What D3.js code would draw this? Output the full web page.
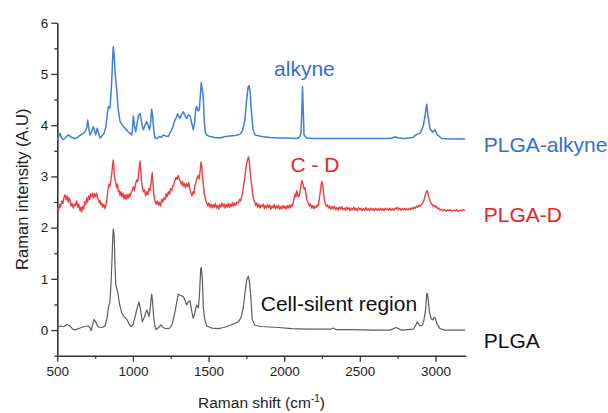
<!DOCTYPE html>
<html>
<head>
<meta charset="utf-8">
<script src="https://cdn.jsdelivr.net/npm/d3@7"></script>
<style>
  body { margin: 0; background: #fff; }
  text { font-family: "Liberation Sans", Arial, sans-serif; }
</style>
</head>
<body>
<div id="chart"></div>
<script>
// Spectra: [Raman shift (cm-1), intensity (A.U)]
var plgaData = [[500,0.05],[520,0.08],[545,0.07],[562,0.11],[580,0.09],[606,0.01],[625,0.01],[650,0.04],[680,0.07],[705,0.08],[715,0.05],[723,-0.01],[735,0.12],[743,0.21],[755,0.15],[771,0.06],[795,0.05],[815,0.08],[830,0.25],[838,0.45],[848,0.55],[855,0.9],[860,1.24],[866,1.75],[870,1.97],[874,1.9],[877,1.76],[881,1.3],[886,0.91],[892,0.82],[899,0.75],[912,0.5],[926,0.33],[945,0.25],[959,0.21],[975,0.12],[987,0.065],[1000,0.1],[1014,0.26],[1030,0.45],[1040,0.55],[1050,0.4],[1062,0.16],[1075,0.25],[1091,0.39],[1100,0.33],[1106,0.26],[1115,0.45],[1124,0.70],[1130,0.55],[1137,0.26],[1145,0.08],[1153,0.01],[1170,0.05],[1186,0.10],[1200,0.05],[1215,0.03],[1245,0.04],[1260,0.12],[1278,0.36],[1290,0.55],[1300,0.70],[1315,0.68],[1333,0.65],[1345,0.58],[1355,0.49],[1365,0.55],[1377,0.57],[1390,0.35],[1399,0.23],[1410,0.35],[1421,0.49],[1433,0.43],[1440,0.7],[1448,1.2],[1452,1.22],[1459,1.0],[1465,0.45],[1475,0.2],[1488,0.08],[1520,0.04],[1564,0.03],[1600,0.05],[1631,0.08],[1665,0.12],[1697,0.16],[1715,0.25],[1730,0.45],[1742,0.75],[1752,0.98],[1763,1.05],[1770,0.95],[1778,0.7],[1789,0.2],[1807,0.09],[1850,0.07],[1900,0.06],[1961,0.05],[2050,0.03],[2150,0.02],[2250,0.02],[2310,0.02],[2325,0.04],[2340,0.01],[2450,0.01],[2600,0.0],[2700,0.0],[2739,0.05],[2777,0.0],[2854,0.02],[2870,0.1],[2880,0.16],[2898,0.08],[2915,0.1],[2924,0.2],[2935,0.4],[2942,0.7],[2946,0.72],[2952,0.6],[2960,0.36],[2972,0.22],[2982,0.2],[2992,0.25],[2999,0.23],[3010,0.12],[3030,0.03],[3060,0.0],[3100,0.0],[3196,0.0]];

var alkyneData = [[500,3.71],[510,3.78],[518,3.84],[528,3.75],[540,3.72],[555,3.76],[573,3.81],[590,3.77],[606,3.75],[625,3.74],[645,3.79],[660,3.82],[672,3.84],[685,3.88],[695,3.95],[701,4.10],[708,3.95],[716,3.81],[725,3.85],[738,3.97],[745,3.9],[754,3.81],[764,3.94],[772,3.85],[782,3.75],[795,3.79],[809,3.84],[820,3.95],[830,4.2],[837,4.36],[848,4.33],[855,4.6],[860,4.88],[866,5.3],[870,5.53],[875,5.4],[881,5.08],[887,4.85],[893,4.69],[903,4.3],[915,4.07],[930,4.0],[948,3.94],[965,3.88],[980,3.84],[992,3.81],[998,3.95],[1003,4.18],[1010,4.0],[1018,3.87],[1026,4.0],[1036,4.18],[1047,4.23],[1055,4.1],[1062,3.98],[1069,3.91],[1080,4.0],[1091,4.07],[1100,4.0],[1109,3.91],[1117,4.05],[1124,4.31],[1130,4.2],[1135,3.99],[1140,3.85],[1146,3.75],[1160,3.74],[1175,3.78],[1188,3.76],[1201,3.81],[1215,3.79],[1234,3.78],[1245,3.85],[1256,3.91],[1267,4.0],[1278,4.10],[1287,4.15],[1296,4.22],[1304,4.17],[1311,4.13],[1320,4.2],[1333,4.26],[1344,4.19],[1355,4.13],[1366,4.2],[1377,4.18],[1388,4.05],[1399,3.91],[1408,4.05],[1415,4.3],[1421,4.37],[1430,4.28],[1439,4.3],[1446,4.6],[1452,4.83],[1458,4.7],[1465,4.56],[1471,4.1],[1478,3.87],[1490,3.8],[1510,3.78],[1540,3.76],[1576,3.75],[1610,3.78],[1642,3.79],[1675,3.8],[1708,3.82],[1725,3.9],[1740,4.1],[1752,4.5],[1762,4.75],[1768,4.77],[1775,4.65],[1785,4.2],[1795,3.9],[1807,3.81],[1850,3.78],[1906,3.76],[1960,3.75],[2020,3.75],[2083,3.74],[2100,3.76],[2111,3.84],[2117,4.3],[2121,4.75],[2125,4.4],[2131,3.81],[2149,3.75],[2200,3.74],[2300,3.74],[2436,3.74],[2600,3.74],[2700,3.74],[2733,3.77],[2760,3.75],[2788,3.74],[2850,3.76],[2876,3.82],[2898,3.84],[2920,3.99],[2932,4.2],[2942,4.41],[2950,4.2],[2964,3.93],[2982,3.86],[2997,3.91],[3010,3.82],[3041,3.74],[3100,3.73],[3196,3.73]];

var deutData = [[500,2.38],[508,2.32],[515,2.45],[522,2.4],[530,2.52],[537,2.47],[545,2.6],[551,2.64],[558,2.55],[565,2.62],[572,2.5],[578,2.58],[584,2.54],[591,2.42],[598,2.47],[606,2.38],[613,2.46],[620,2.43],[628,2.52],[635,2.4],[642,2.46],[650,2.33],[656,2.4],[661,2.31],[668,2.42],[675,2.37],[681,2.5],[688,2.45],[694,2.58],[700,2.5],[707,2.62],[714,2.55],[720,2.66],[727,2.6],[733,2.67],[740,2.58],[747,2.66],[753,2.6],[760,2.67],[766,2.58],[772,2.55],[778,2.48],[782,2.53],[789,2.44],[795,2.48],[802,2.4],[808,2.45],[815,2.37],[822,2.46],[828,2.55],[835,2.75],[842,2.85],[848,2.8],[855,2.95],[860,3.05],[865,3.2],[870,3.32],[874,3.18],[879,2.98],[886,2.88],[892,2.78],[898,2.85],[904,2.7],[910,2.72],[915,2.62],[921,2.7],[928,2.6],[934,2.67],[941,2.56],[948,2.64],[955,2.55],[961,2.65],[968,2.57],[975,2.66],[981,2.6],[988,2.68],[995,2.72],[1003,2.8],[1010,2.72],[1017,2.85],[1025,2.93],[1032,2.9],[1038,3.05],[1043,3.2],[1047,3.3],[1052,3.1],[1057,2.9],[1062,2.8],[1069,2.7],[1076,2.74],[1084,2.62],[1091,2.7],[1098,2.64],[1105,2.76],[1113,2.72],[1119,2.85],[1124,3.0],[1128,3.07],[1133,2.85],[1139,2.62],[1146,2.52],[1153,2.46],[1160,2.52],[1168,2.44],[1175,2.5],[1182,2.42],[1190,2.55],[1197,2.5],[1204,2.58],[1212,2.55],[1219,2.66],[1226,2.6],[1234,2.7],[1241,2.65],[1248,2.76],[1256,2.72],[1263,2.8],[1270,2.85],[1278,2.92],[1285,2.98],[1292,2.94],[1300,3.02],[1307,2.95],[1314,2.9],[1322,2.84],[1328,2.9],[1333,2.81],[1340,2.86],[1347,2.78],[1355,2.86],[1362,2.8],[1369,2.88],[1376,2.76],[1383,2.68],[1390,2.62],[1397,2.7],[1404,2.66],[1410,2.82],[1418,2.9],[1425,2.98],[1432,3.02],[1438,2.95],[1444,3.1],[1450,3.28],[1455,3.2],[1460,3.0],[1465,2.85],[1472,2.66],[1481,2.54],[1488,2.48],[1495,2.42],[1502,2.48],[1510,2.4],[1517,2.46],[1524,2.38],[1531,2.45],[1538,2.4],[1545,2.47],[1552,2.38],[1560,2.44],[1567,2.36],[1574,2.45],[1581,2.4],[1589,2.48],[1596,2.41],[1603,2.46],[1610,2.38],[1618,2.45],[1625,2.4],[1631,2.47],[1638,2.39],[1645,2.46],[1652,2.41],[1659,2.49],[1666,2.42],[1673,2.48],[1680,2.43],[1688,2.5],[1697,2.48],[1705,2.55],[1712,2.52],[1720,2.62],[1727,2.72],[1733,2.85],[1740,2.98],[1747,3.15],[1752,3.26],[1758,3.32],[1764,3.38],[1769,3.3],[1775,3.1],[1780,2.95],[1786,2.8],[1792,2.65],[1798,2.55],[1805,2.5],[1812,2.43],[1819,2.48],[1826,2.4],[1833,2.46],[1840,2.38],[1847,2.44],[1854,2.41],[1862,2.46],[1869,2.37],[1876,2.43],[1883,2.38],[1890,2.45],[1897,2.39],[1905,2.44],[1912,2.36],[1919,2.42],[1926,2.39],[1934,2.45],[1941,2.37],[1948,2.42],[1955,2.38],[1962,2.44],[1970,2.36],[1977,2.41],[1984,2.37],[1991,2.43],[1998,2.38],[2005,2.42],[2012,2.36],[2020,2.43],[2027,2.38],[2034,2.44],[2041,2.39],[2048,2.45],[2055,2.42],[2062,2.52],[2068,2.6],[2073,2.66],[2078,2.6],[2083,2.72],[2089,2.65],[2094,2.6],[2100,2.62],[2106,2.72],[2112,2.85],[2117,2.92],[2122,2.88],[2127,2.8],[2133,2.75],[2138,2.78],[2144,2.65],[2150,2.55],[2156,2.5],[2162,2.46],[2168,2.42],[2175,2.46],[2182,2.38],[2189,2.43],[2196,2.37],[2203,2.42],[2210,2.39],[2217,2.44],[2224,2.42],[2230,2.52],[2236,2.64],[2242,2.78],[2247,2.88],[2251,2.9],[2256,2.8],[2261,2.64],[2266,2.54],[2272,2.47],[2279,2.42],[2286,2.44],[2292,2.38],[2300,2.42],[2308,2.36],[2316,2.41],[2324,2.37],[2332,2.42],[2340,2.35],[2348,2.39],[2356,2.34],[2364,2.4],[2372,2.36],[2380,2.41],[2388,2.35],[2396,2.38],[2404,2.34],[2412,2.4],[2420,2.35],[2428,2.39],[2436,2.33],[2444,2.38],[2452,2.35],[2460,2.4],[2468,2.34],[2476,2.38],[2484,2.33],[2492,2.39],[2500,2.35],[2508,2.38],[2516,2.33],[2524,2.37],[2532,2.34],[2540,2.39],[2548,2.34],[2556,2.37],[2564,2.33],[2572,2.38],[2580,2.34],[2588,2.37],[2596,2.33],[2604,2.38],[2612,2.34],[2620,2.37],[2628,2.33],[2636,2.38],[2644,2.34],[2652,2.37],[2660,2.33],[2668,2.38],[2676,2.35],[2684,2.37],[2692,2.34],[2700,2.38],[2708,2.34],[2716,2.37],[2724,2.34],[2732,2.38],[2740,2.36],[2748,2.4],[2756,2.35],[2764,2.38],[2772,2.34],[2780,2.37],[2788,2.35],[2796,2.38],[2804,2.34],[2812,2.37],[2820,2.35],[2828,2.38],[2836,2.35],[2844,2.39],[2852,2.36],[2860,2.4],[2868,2.38],[2876,2.42],[2884,2.4],[2892,2.44],[2900,2.42],[2908,2.45],[2915,2.47],[2922,2.52],[2928,2.58],[2934,2.65],[2940,2.7],[2946,2.72],[2952,2.66],[2958,2.58],[2964,2.52],[2970,2.48],[2976,2.46],[2982,2.42],[2990,2.44],[2998,2.4],[3006,2.42],[3014,2.37],[3022,2.38],[3030,2.34],[3040,2.36],[3050,2.33],[3060,2.35],[3070,2.32],[3080,2.35],[3090,2.33],[3100,2.35],[3110,2.32],[3120,2.34],[3130,2.33],[3140,2.35],[3150,2.32],[3160,2.34],[3170,2.33],[3180,2.35],[3196,2.33]];

// Tick values
var xMajor = [500, 1000, 1500, 2000, 2500, 3000];
var xMinor = [750, 1250, 1750, 2250, 2750];
var yMajor = [0, 1, 2, 3, 4, 5, 6];
var yMinor = [-0.5, 0.5, 1.5, 2.5, 3.5, 4.5, 5.5];

// Series labels and annotations
var seriesNames = ["PLGA-alkyne", "PLGA-D", "PLGA"];
var seriesLabelY = [3.48, 2.10, -0.35]; // baseline of each label, in y units
var notes = [
  {text: "alkyne", x: 2134, y: 4.96, color: "#2f6fd3"},
  {text: "C - D", x: 2204, y: 3.09, color: "#e82424"},
  {text: "Cell-silent region", x: 2362, y: 0.377, color: "#111"}
];

var W = 608, H = 413;
var margin = {top: 22.7, right: 142.3, bottom: 57.3, left: 57.3},
    width = W - margin.left - margin.right,
    height = H - margin.top - margin.bottom;

var svg = d3.select("#chart").append("svg")
  .attr("width", W).attr("height", H);

var g = svg.append("g")
  .attr("transform", "translate(" + margin.left + "," + margin.top + ")");

var x = d3.scaleLinear().domain([500, 3200]).range([0, width]);
var y = d3.scaleLinear().domain([-0.5, 6]).range([height, 0]);

var axisColor = "#333";

// X axis: major labelled ticks + minor ticks
g.append("g")
  .attr("transform", "translate(0," + height + ")")
  .call(d3.axisBottom(x).tickValues(xMajor).tickSize(6).tickSizeOuter(0).tickPadding(5).tickFormat(d3.format("d")));
g.append("g")
  .attr("transform", "translate(0," + height + ")")
  .call(d3.axisBottom(x).tickValues(xMinor).tickSize(3).tickSizeOuter(0).tickFormat(""))
  .select(".domain").remove();

// Y axis
g.append("g")
  .call(d3.axisLeft(y).tickValues(yMajor).tickSize(6).tickSizeOuter(0).tickPadding(3).tickFormat(d3.format("d")));
g.append("g")
  .call(d3.axisLeft(y).tickValues(yMinor).tickSize(3).tickSizeOuter(0).tickFormat(""))
  .select(".domain").remove();

g.selectAll(".domain").attr("stroke", axisColor).attr("stroke-width", 1.6);
g.selectAll(".tick line").attr("stroke", axisColor).attr("stroke-width", 1.3);
g.selectAll(".tick text").attr("fill", "#222").style("font-size", "13.5px")
  .style("font-family", "'Liberation Sans', Arial, sans-serif");

// Axis titles
svg.append("text")
  .attr("x", margin.left + width / 2)
  .attr("y", 408)
  .attr("text-anchor", "middle")
  .attr("fill", "#222")
  .style("font-size", "15.5px")
  .html('Raman shift (cm<tspan dy="-6" font-size="10px">-1</tspan><tspan dy="6">)</tspan>');

svg.append("text")
  .attr("transform", "translate(28," + (margin.top + height / 2) + ") rotate(-90)")
  .attr("text-anchor", "middle")
  .attr("fill", "#222")
  .style("font-size", "16.5px")
  .text("Raman intensity (A.U)");

// Spectra
var line = d3.line()
  .x(function(d) { return x(d[0]); })
  .y(function(d) { return y(d[1]); });

var series = [
  {data: plgaData, color: "#5c5c5c", w: 1.2},
  {data: deutData, color: "#f03c3c", w: 1.4},
  {data: alkyneData, color: "#3f7fdc", w: 1.5}
];

series.forEach(function(s) {
  g.append("path")
    .datum(s.data)
    .attr("d", line)
    .attr("fill", "none")
    .attr("stroke", s.color)
    .attr("stroke-width", s.w)
    .attr("stroke-linejoin", "round");
});

// Series labels on the right
var labelColors = ["#2f6fd3", "#e82424", "#111"];
g.selectAll(".series-label")
  .data(seriesNames)
  .enter().append("text")
  .attr("class", "series-label")
  .attr("x", width + 18)
  .attr("y", function(d, i) { return y(seriesLabelY[i]); })
  .attr("fill", function(d, i) { return labelColors[i]; })
  .style("font-size", "21px")
  .text(function(d) { return d; });

// Annotations
g.selectAll(".note")
  .data(notes)
  .enter().append("text")
  .attr("class", "note")
  .attr("x", function(d) { return x(d.x); })
  .attr("y", function(d) { return y(d.y); })
  .attr("text-anchor", "middle")
  .attr("fill", function(d) { return d.color; })
  .style("font-size", "21px")
  .text(function(d) { return d.text; });
</script>
</body>
</html>
